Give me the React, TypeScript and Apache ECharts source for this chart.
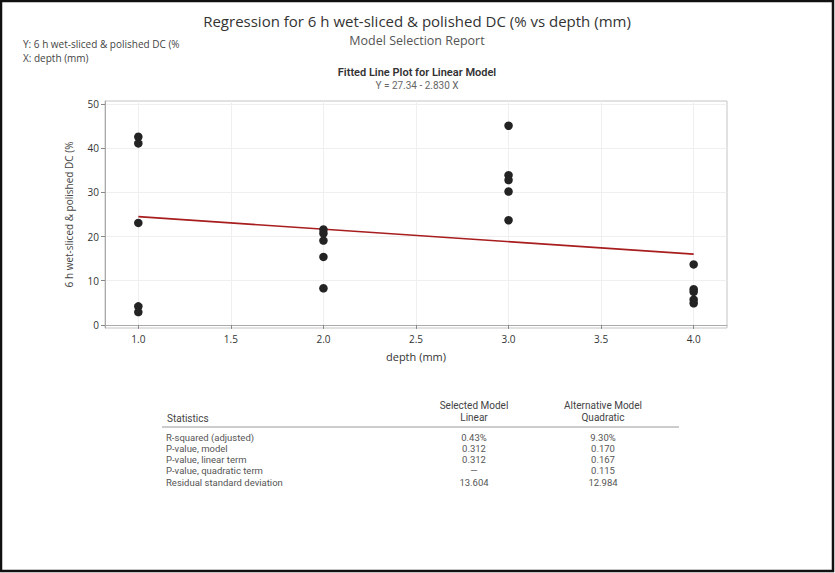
import React, { useEffect, useRef } from "react";
import * as echarts from "echarts";

const depthX = [1, 1, 1, 1, 1, 2, 2, 2, 2, 2, 3, 3, 3, 3, 3, 4, 4, 4, 4, 4];
const dcY = [42.6, 41.1, 23.1, 4.2, 2.9, 21.6, 20.7, 19.1, 15.4, 8.3, 45.1, 33.9, 32.8, 30.2, 23.7, 13.7, 8.1, 7.5, 5.7, 4.9];
const intercept = 27.34;
const slope = -2.83;
const xTicks = [1, 1.5, 2, 2.5, 3, 3.5, 4];
const yTicks = [0, 10, 20, 30, 40, 50];

const statNames = ["R-squared (adjusted)", "P-value, model", "P-value, linear term", "P-value, quadratic term", "Residual standard deviation"];
const linearVals = ["0.43%", "0.312", "0.312", "—", "13.604"];
const quadVals = ["9.30%", "0.170", "0.167", "0.115", "12.984"];

const FONT = "'Open Sans', 'Noto Sans', sans-serif";
const TFONT = "Roboto, 'Open Sans', sans-serif";

function txt(x: number, y: number, text: string, size: number, fill: string, align = "center", weight = "normal", family = FONT) {
  return {
    type: "text",
    x,
    y,
    style: {
      text,
      fontFamily: family,
      fontSize: size,
      fontWeight: weight,
      lineHeight: Math.round(size),
      fill,
      align,
      verticalAlign: "middle",
    },
  };
}

export default function App() {
  const ref = useRef<HTMLDivElement>(null);
  useEffect(() => {
    if (!ref.current) return;
    const chart = echarts.init(ref.current, null, { renderer: "svg" });
    const xLine = [Math.min(...depthX), Math.max(...depthX)];
    const fitData = xLine.map((x) => [x, intercept + slope * x]);
    const rowY0 = 437;
    const rowStep = 11.3;
    const graphics: any[] = [
      { type: "rect", shape: { x: 1, y: 1, width: 832, height: 570 }, style: { fill: "none", stroke: "#111", lineWidth: 2.5 }, z: 10 },
      txt(417, 21, "Regression for 6 h wet-sliced & polished DC (% vs depth (mm)", 15, "#333"),
      txt(417, 40, "Model Selection Report", 12.5, "#555"),
      txt(23, 44, "Y: 6 h wet-sliced & polished DC (%", 10, "#444", "left"),
      txt(23, 58, "X: depth (mm)", 10, "#444", "left"),
      txt(417, 72.5, "Fitted Line Plot for Linear Model", 11, "#333", "center", "600", TFONT),
      txt(417, 85, "Y = 27.34 - 2.830 X", 10, "#666", "center", "normal", TFONT),
      txt(474, 405, "Selected Model", 10, "#444", "center", "normal", TFONT),
      txt(474, 417, "Linear", 10, "#444", "center", "normal", TFONT),
      txt(603, 405, "Alternative Model", 10, "#444", "center", "normal", TFONT),
      txt(603, 417, "Quadratic", 10, "#444", "center", "normal", TFONT),
      txt(167, 418, "Statistics", 10, "#444", "left", "normal", TFONT),
      { type: "line", shape: { x1: 162, y1: 427, x2: 679, y2: 427 }, style: { stroke: "#999", lineWidth: 1 } },
    ];
    statNames.forEach((name, i) => {
      const y = rowY0 + i * rowStep;
      graphics.push(txt(166, y, name, 9.5, "#555", "left", "normal", TFONT));
      graphics.push(txt(474, y, linearVals[i], 9.5, "#555", "center", "normal", TFONT));
      graphics.push(txt(603, y, quadVals[i], 9.5, "#555", "center", "normal", TFONT));
    });

    chart.setOption({
      animation: false,
      backgroundColor: "#fff",
      textStyle: { fontFamily: FONT },
      grid: { left: 105, top: 101, right: 108, bottom: 245, show: true, borderColor: "#c4c4c4", borderWidth: 1 },
      xAxis: {
        type: "value",
        min: 0.82,
        max: 4.18,
        name: "depth (mm)",
        nameLocation: "middle",
        nameGap: 23,
        nameTextStyle: { fontSize: 11, color: "#333", fontFamily: FONT },
        axisLine: { show: true, lineStyle: { color: "#aaa" } },
        axisTick: { show: true, length: 4, lineStyle: { color: "#888" }, customValues: xTicks },
        axisLabel: { fontSize: 10, color: "#333", margin: 6, fontFamily: FONT, customValues: xTicks, formatter: (v: number) => v.toFixed(1) },
        splitLine: { show: true, lineStyle: { color: "#efefef" } },
      },
      yAxis: {
        type: "value",
        min: -0.7,
        max: 50.7,
        name: "6 h wet-sliced & polished DC (%",
        nameLocation: "middle",
        nameGap: 31,
        nameTextStyle: { fontSize: 10, color: "#444", fontFamily: FONT },
        axisLine: { show: true, lineStyle: { color: "#aaa" } },
        axisTick: { show: true, length: 4, lineStyle: { color: "#888" }, customValues: yTicks },
        axisLabel: { fontSize: 10, color: "#333", margin: 6, fontFamily: FONT, customValues: yTicks },
        splitLine: { show: true, lineStyle: { color: "#efefef" } },
      },
      series: [
        {
          type: "line",
          data: fitData,
          showSymbol: false,
          symbol: "none",
          lineStyle: { color: "#a81d1d", width: 1.6 },
          z: 2,
        },
        {
          type: "scatter",
          data: depthX.map((x, i) => [x, dcY[i]]),
          symbol: "circle",
          symbolSize: 8.5,
          itemStyle: { color: "#232323", opacity: 1 },
          z: 3,
        },
      ],
      graphic: graphics,
    });
    return () => chart.dispose();
  }, []);
  return <div ref={ref} style={{ position: "absolute", left: 0, top: 0, width: 835, height: 573 }} />;
}
